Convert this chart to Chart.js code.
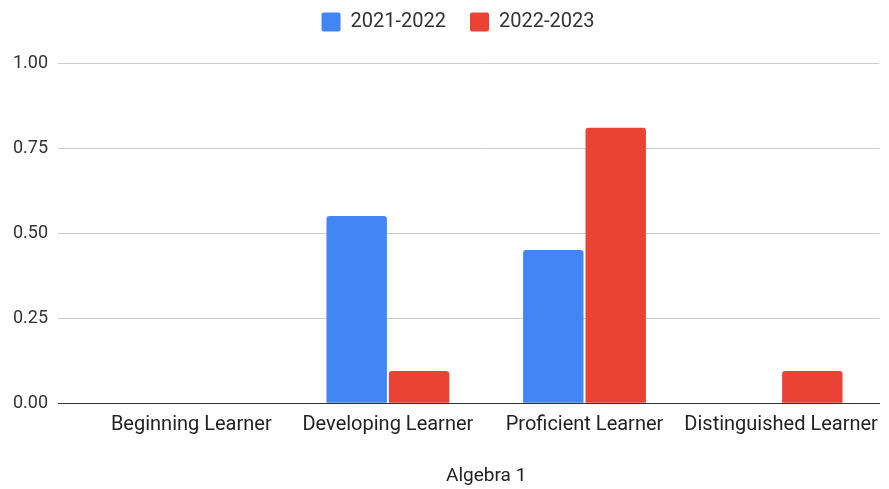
<!DOCTYPE html>
<html>
<head>
<meta charset="utf-8">
<script src="https://cdn.jsdelivr.net/npm/chart.js@4/dist/chart.umd.min.js"></script>
<style>
  html, body { margin: 0; padding: 0; background: #ffffff; }
  #wrap { width: 889px; height: 489px; position: relative; }
</style>
</head>
<body>
<div id="wrap"><canvas id="chart"></canvas></div>
<script>
// Share of students at each performance level, Algebra 1
const categories = ['Beginning Learner', 'Developing Learner', 'Proficient Learner', 'Distinguished Learner'];
const seriesNames = ['2021-2022', '2022-2023'];
const values2122 = [0, 0.55, 0.45, 0];
const values2223 = [0, 0.095, 0.81, 0.095];
const yTicks = [0, 0.25, 0.5, 0.75, 1];
const axisTitle = 'Algebra 1';

const BLUE = '#4285F4';
const RED = '#EA4335';
const FONT = 'Roboto, "Liberation Sans", Arial, sans-serif';

// Tune the legend block: its reserved height and where it is drawn
const legendSpacing = {
  id: 'legendSpacing',
  beforeInit(chart) {
    const fit = chart.legend.fit;
    chart.legend.fit = function () {
      fit.call(this);
      this.height += 9;
    };
  },
  afterLayout(chart) {
    const lg = chart.legend;
    lg.left += 12;
    lg.right += 12;
    lg.top -= 12;
    lg.bottom -= 12;
  }
};

new Chart(document.getElementById('chart'), {
  type: 'bar',
  data: {
    labels: categories,
    datasets: [
      { label: seriesNames[0], data: values2122, backgroundColor: BLUE },
      { label: seriesNames[1], data: values2223, backgroundColor: RED }
    ]
  },
  plugins: [legendSpacing],
  options: {
    responsive: true,
    maintainAspectRatio: false,
    animation: false,
    layout: { padding: { top: 0, right: 9, left: 12, bottom: 0 } },
    datasets: {
      bar: {
        categoryPercentage: 0.635,
        barPercentage: 0.968,
        borderWidth: 0,
        borderRadius: { topLeft: 3, topRight: 3, bottomLeft: 0, bottomRight: 0 },
        borderSkipped: 'bottom'
      }
    },
    plugins: {
      legend: {
        position: 'top',
        align: 'center',
        labels: {
          font: { family: FONT, size: 20 },
          color: '#333333',
          boxWidth: 19,
          boxHeight: 19,
          padding: 24,
          useBorderRadius: true,
          borderRadius: 2
        }
      },
      tooltip: { enabled: false }
    },
    scales: {
      x: {
        grid: { display: false, drawTicks: false },
        border: { display: true, color: '#333333', width: 1 },
        ticks: {
          font: { family: FONT, size: 20 },
          color: '#222222',
          padding: 10,
          maxRotation: 0,
          autoSkip: false
        },
        title: {
          display: true,
          text: axisTitle,
          font: { family: FONT, size: 19 },
          color: '#222222',
          padding: { top: 18, bottom: 1 }
        }
      },
      y: {
        min: 0,
        max: 1,
        afterBuildTicks: (scale) => { scale.ticks = yTicks.map(v => ({ value: v })); },
        afterFit: (scale) => { scale.width = 81; },
        grid: {
          color: (c) => (c.tick && c.tick.value === 0 ? '#333333' : '#cccccc'),
          tickColor: (c) => (c.tick && c.tick.value === 0 ? '#333333' : '#cccccc'),
          lineWidth: 1,
          drawTicks: true,
          tickLength: 35
        },
        border: { display: false },
        ticks: {
          font: { family: FONT, size: 18 },
          color: '#333333',
          padding: 10,
          callback: (v) => Number(v).toFixed(2)
        }
      }
    }
  }
});
</script>
</body>
</html>
